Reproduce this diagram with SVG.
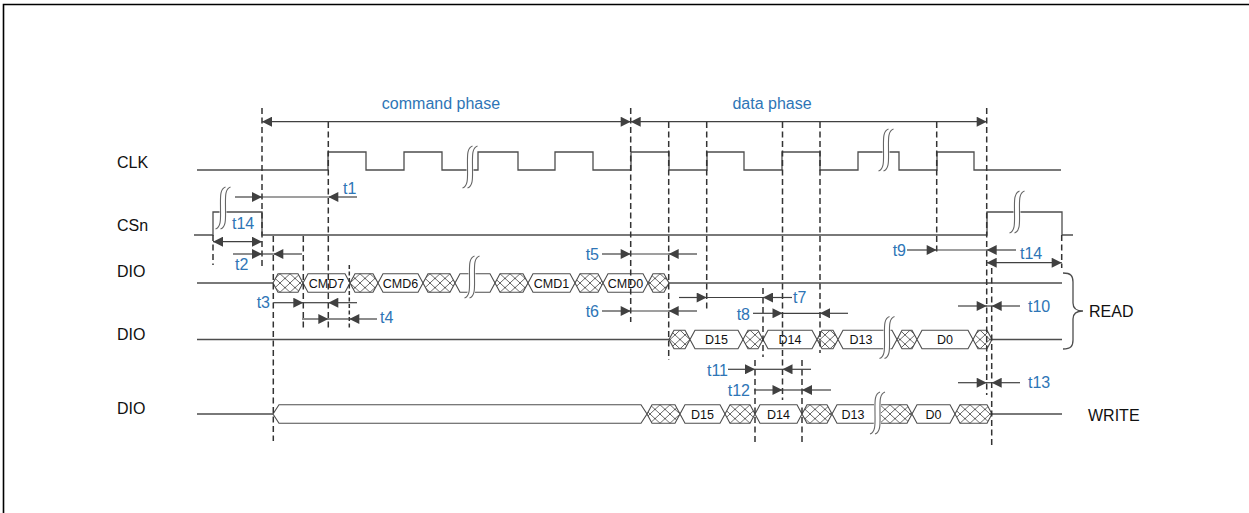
<svg xmlns="http://www.w3.org/2000/svg" xmlns:xlink="http://www.w3.org/1999/xlink" width="1249" height="513" viewBox="0 0 1249 513">
<style>
.sig{fill:none;stroke:#4d4d4d;stroke-width:1.3}
.bus{fill:#fff;stroke:#4d4d4d;stroke-width:1.1}
.x1{fill:url(#xh1);stroke:#4d4d4d;stroke-width:1.1}
.x2{fill:url(#xh2);stroke:#4d4d4d;stroke-width:1.1}
.x3{fill:url(#xh3);stroke:#4d4d4d;stroke-width:1.1}
.dash{fill:none;stroke:#333;stroke-width:1.5;stroke-dasharray:6 3.5}
.dim{fill:none;stroke:#404040;stroke-width:1.2}
.a{marker-end:url(#ah)}
.b{marker-start:url(#ah);marker-end:url(#ah)}
.lbl{font-family:'Liberation Sans',Arial,sans-serif;font-size:16px;fill:#111}
.t{font-family:'Liberation Sans',Arial,sans-serif;font-size:16px;fill:#2E75B6}
.e{text-anchor:end}
.bt{font-family:'Liberation Sans',Arial,sans-serif;font-size:12.5px;fill:#111;text-anchor:middle}
.mid{text-anchor:middle}
</style>
<defs>
<marker id="ah" viewBox="0 0 10 10" refX="10" refY="5" markerWidth="11" markerHeight="10" markerUnits="userSpaceOnUse" orient="auto-start-reverse">
<path d="M0,0 L10,5 L0,10 z" fill="#404040"/>
</marker>
<pattern id="xh1" patternUnits="userSpaceOnUse" x="0" y="273.75" width="10" height="9.25"><path d="M0,0 L10,9.25 M10,0 L0,9.25" stroke="#555" stroke-width="0.9"/></pattern>
<pattern id="xh2" patternUnits="userSpaceOnUse" x="0" y="330.25" width="10" height="9.25"><path d="M0,0 L10,9.25 M10,0 L0,9.25" stroke="#555" stroke-width="0.9"/></pattern>
<pattern id="xh3" patternUnits="userSpaceOnUse" x="0" y="404.75" width="10" height="9.25"><path d="M0,0 L10,9.25 M10,0 L0,9.25" stroke="#555" stroke-width="0.9"/></pattern>
<g id="sq">
<path d="M5,-21 C-1,-19 0,-10 0,0 C0,10 1,19 -5,21" fill="none" stroke="#fff" stroke-width="7"/>
<path d="M2.5,-21 C-3.5,-19 -2.5,-10 -2.5,0 C-2.5,10 -1.5,19 -7.5,21" fill="none" stroke="#666" stroke-width="1.1"/>
<path d="M7.5,-21 C1.5,-19 2.5,-10 2.5,0 C2.5,10 3.5,19 -2.5,21" fill="none" stroke="#666" stroke-width="1.1"/>
</g>
</defs>
<rect width="1249" height="513" fill="#fff"/>
<path d="M3.5,513 V4.5 H1249" fill="none" stroke="#000" stroke-width="1.6"/>

<g id="labels">
<text class="lbl" x="117" y="168">CLK</text>
<text class="lbl" x="117" y="231">CSn</text>
<text class="lbl" x="117" y="277">DIO</text>
<text class="lbl" x="117" y="340">DIO</text>
<text class="lbl" x="117" y="414">DIO</text>
<text class="lbl" x="1089" y="317">READ</text>
<text class="lbl" x="1088" y="421">WRITE</text>
<text class="t mid" x="441" y="109">command phase</text>
<text class="t mid" x="772" y="109">data phase</text>
</g>

<g id="clk">
<path class="sig" d="M197,170 H328 V152 H366 V170 H404 V152 H442 V170 H478 V152 H518 V170 H555 V152 H593 V170 H631 V152 H669 V170 H707 V152 H744 V170 H782 V152 H820 V170 H858 V152 H899 V170 H937 V152 H974 V170 H1061"/>
<use xlink:href="#sq" href="#sq" x="470" y="167"/>
<use xlink:href="#sq" href="#sq" x="886" y="150"/>
</g>

<g id="csn">
<path class="sig" d="M194,235 H213 V212 H262 V235 H987 V212 H1062 V235 H1073"/>
<use xlink:href="#sq" href="#sq" x="223" y="208"/>
<use xlink:href="#sq" href="#sq" x="1017" y="212"/>
</g>

<g id="dio-cmd">
<path class="sig" d="M197,283 H273 M669,283 H1062"/>
<polygon class="x1" points="273,283 278,273.75 298,273.75 303,283 298,292.25 278,292.25"/>
<polygon class="bus" points="303,283 308,273.75 345,273.75 350,283 345,292.25 308,292.25"/>
<polygon class="x1" points="350,283 355,273.75 373,273.75 378,283 373,292.25 355,292.25"/>
<polygon class="bus" points="378,283 383,273.75 418,273.75 423,283 418,292.25 383,292.25"/>
<polygon class="x1" points="423,283 428,273.75 450,273.75 455,283 450,292.25 428,292.25"/>
<polygon class="bus" points="455,283 460,273.75 490,273.75 495,283 490,292.25 460,292.25"/>
<polygon class="x1" points="495,283 500,273.75 523,273.75 528,283 523,292.25 500,292.25"/>
<polygon class="bus" points="528,283 533,273.75 570,273.75 575,283 570,292.25 533,292.25"/>
<polygon class="x1" points="575,283 580,273.75 598,273.75 603,283 598,292.25 580,292.25"/>
<polygon class="bus" points="603,283 608,273.75 643,273.75 648,283 643,292.25 608,292.25"/>
<polygon class="x1" points="648,283 653,273.75 664,273.75 669,283 664,292.25 653,292.25"/>
<text class="bt" x="326.5" y="287.5">CMD7</text>
<text class="bt" x="400.5" y="287.5">CMD6</text>
<text class="bt" x="551.5" y="287.5">CMD1</text>
<text class="bt" x="625.5" y="287.5">CMD0</text>
<use xlink:href="#sq" href="#sq" x="472" y="277"/>
</g>

<g id="dio-read">
<path class="sig" d="M197,339.5 H669 M992,339.5 H1062"/>
<polygon class="x2" points="669,339.5 674,330.25 685,330.25 690,339.5 685,348.75 674,348.75"/>
<polygon class="bus" points="690,339.5 695,330.25 738,330.25 743,339.5 738,348.75 695,348.75"/>
<polygon class="x2" points="743,339.5 748,330.25 758,330.25 763,339.5 758,348.75 748,348.75"/>
<polygon class="bus" points="763,339.5 768,330.25 812,330.25 817,339.5 812,348.75 768,348.75"/>
<polygon class="x2" points="817,339.5 822,330.25 833,330.25 838,339.5 833,348.75 822,348.75"/>
<polygon class="bus" points="838,339.5 843,330.25 892,330.25 897,339.5 892,348.75 843,348.75"/>
<polygon class="x2" points="897,339.5 902,330.25 912,330.25 917,339.5 912,348.75 902,348.75"/>
<polygon class="bus" points="917,339.5 922,330.25 968,330.25 973,339.5 968,348.75 922,348.75"/>
<polygon class="x2" points="973,339.5 978,330.25 987,330.25 992,339.5 987,348.75 978,348.75"/>
<text class="bt" x="716.5" y="344">D15</text>
<text class="bt" x="790" y="344">D14</text>
<text class="bt" x="861" y="344">D13</text>
<text class="bt" x="945" y="344">D0</text>
<use xlink:href="#sq" href="#sq" x="887" y="337.5"/>
<path d="M1063,273 C1071,273 1073,276 1073,282 V303 C1073,308 1076,311 1083,311 C1076,311 1073,314 1073,319 V340 C1073,346 1071,349 1063,349" fill="none" stroke="#4d4d4d" stroke-width="1.3"/>
</g>

<g id="dio-write">
<path class="sig" d="M197,414 H273 M992,414 H1062"/>
<polygon class="bus" points="273,414 279,404.75 641,404.75 647,414 641,423.25 279,423.25"/>
<polygon class="x3" points="647,414 652,404.75 675,404.75 680,414 675,423.25 652,423.25"/>
<polygon class="bus" points="680,414 685,404.75 720,404.75 725,414 720,423.25 685,423.25"/>
<polygon class="x3" points="725,414 730,404.75 750,404.75 755,414 750,423.25 730,423.25"/>
<polygon class="bus" points="755,414 760,404.75 797,404.75 802,414 797,423.25 760,423.25"/>
<polygon class="x3" points="802,414 807,404.75 827,404.75 832,414 827,423.25 807,423.25"/>
<polygon class="bus" points="832,414 837,404.75 875,404.75 880,414 875,423.25 837,423.25"/>
<polygon class="x3" points="875,414 880,404.75 907,404.75 912,414 907,423.25 880,423.25"/>
<polygon class="bus" points="912,414 917,404.75 950,404.75 955,414 950,423.25 917,423.25"/>
<polygon class="x3" points="955,414 960,404.75 987,404.75 992,414 987,423.25 960,423.25"/>
<text class="bt" x="702.5" y="418.5">D15</text>
<text class="bt" x="778.5" y="418.5">D14</text>
<text class="bt" x="853" y="418.5">D13</text>
<text class="bt" x="933.5" y="418.5">D0</text>
<use xlink:href="#sq" href="#sq" x="877.5" y="413"/>
</g>

<g id="connectors">
<path class="dash" d="M213,235 V265 M262,108 V266 M273.3,236 V441 M303.3,236 V329 M328.3,122 V330 M630.7,108 V322 M668.7,122 V360 M706.7,122 V312 M763,288 V357 M782.5,122 V400 M820,122 V353 M936.7,122 V253 M986.7,108 V395 M991.7,268 V445 M1061.7,235 V268 M755,360 V445 M802,360 V445"/>
<path class="dash" style="stroke-dasharray:4 2.5" d="M349.3,265 V330"/>

<line class="dim b" x1="262" y1="121.7" x2="630.7" y2="121.7"/>
<line class="dim b" x1="630.7" y1="121.7" x2="986.7" y2="121.7"/>

<path class="dim a" d="M235,197 H262"/><path class="dim" d="M262,197 H328"/><path class="dim a" d="M357,197 H328.3"/>
<line class="dim b" x1="213" y1="241.7" x2="262" y2="241.7"/>
<path class="dim a" d="M233,254 H262"/><path class="dim" d="M262,254 H273"/><path class="dim a" d="M302,254 H273.3"/>
<path class="dim a" d="M273.3,302.7 H303.3"/><path class="dim" d="M303,302.7 H328"/><path class="dim a" d="M357,302.7 H328.3"/>
<path class="dim a" d="M302,319 H328.3"/><path class="dim" d="M328,319 H349"/><path class="dim a" d="M377,319 H349.3"/>
<path class="dim a" d="M602,254 H630.7"/><path class="dim" d="M630,254 H669"/><path class="dim a" d="M697,254 H668.7"/>
<path class="dim a" d="M602,311 H630.7"/><path class="dim" d="M630,311 H669"/><path class="dim a" d="M697,311 H668.7"/>
<path class="dim a" d="M679,297.5 H706.7"/><path class="dim" d="M706,297.5 H763"/><path class="dim a" d="M792,297.5 H763"/>
<path class="dim a" d="M753,313.3 H782.5"/><path class="dim" d="M782,313.3 H820"/><path class="dim a" d="M848,313.3 H820"/>
<path class="dim a" d="M907,250 H936.7"/><path class="dim" d="M936,250 H987"/><path class="dim a" d="M1016,250 H986.7"/>
<line class="dim b" x1="986.7" y1="262.7" x2="1061.7" y2="262.7"/>
<path class="dim a" d="M958,306 H986.7"/><path class="dim" d="M986,306 H992"/><path class="dim a" d="M1020,306 H991.7"/>
<path class="dim a" d="M728,369.3 H755"/><path class="dim" d="M755,369.3 H782.5"/><path class="dim a" d="M811,369.3 H782.5"/>
<path class="dim a" d="M754,390 H782.5"/><path class="dim" d="M782,390 H802"/><path class="dim a" d="M831,390 H802"/>
<path class="dim a" d="M958,382.7 H986.7"/><path class="dim" d="M986,382.7 H992"/><path class="dim a" d="M1020,382.7 H991.7"/>
</g>

<g id="timing-labels">
<text class="t" x="343" y="194">t1</text>
<text class="t" x="232" y="229">t14</text>
<text class="t" x="235" y="270">t2</text>
<text class="t e" x="270" y="308">t3</text>
<text class="t" x="380" y="323">t4</text>
<text class="t e" x="599" y="260">t5</text>
<text class="t e" x="599" y="317">t6</text>
<text class="t" x="793" y="303">t7</text>
<text class="t e" x="750" y="320">t8</text>
<text class="t e" x="906" y="256">t9</text>
<text class="t" x="1020" y="259">t14</text>
<text class="t" x="1028" y="312">t10</text>
<text class="t e" x="728" y="376">t11</text>
<text class="t e" x="750" y="396">t12</text>
<text class="t" x="1028" y="388">t13</text>
</g>
</svg>
